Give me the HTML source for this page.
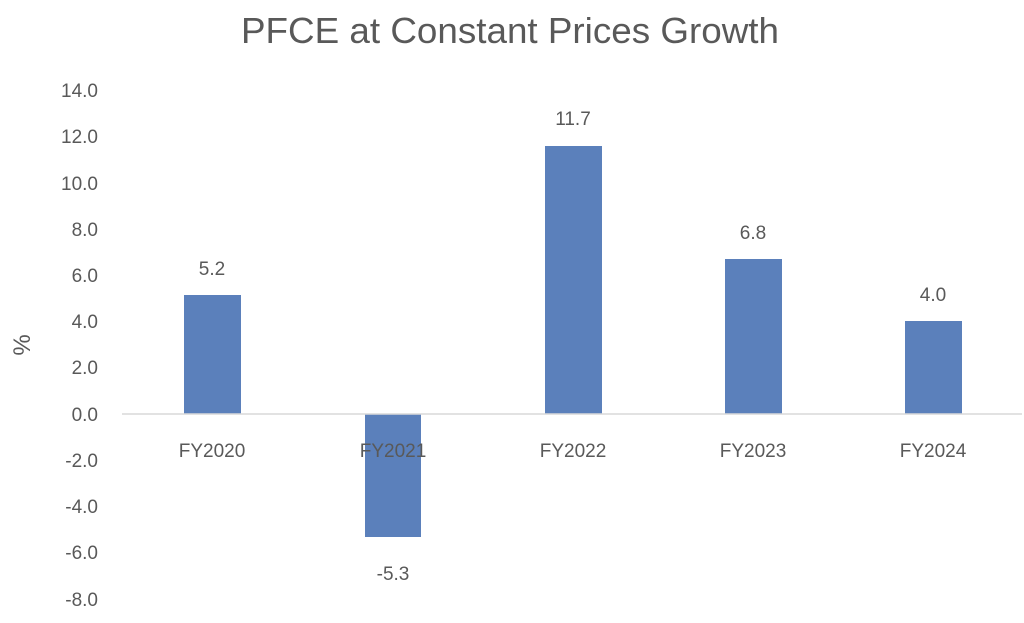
<!DOCTYPE html>
<html><head><style>
html,body{margin:0;padding:0;background:#fff;}
svg text{font-family:"Liberation Sans",sans-serif;fill:#595959;}
</style></head><body>
<svg width="1024" height="618" viewBox="0 0 1024 618" xmlns="http://www.w3.org/2000/svg">
<text x="510" y="43" font-size="36" text-anchor="middle" textLength="538" lengthAdjust="spacingAndGlyphs">PFCE at Constant Prices Growth</text>
<g font-size="19" text-anchor="end">
<text x="98" y="97">14.0</text>
<text x="98" y="143">12.0</text>
<text x="98" y="190">10.0</text>
<text x="98" y="236">8.0</text>
<text x="98" y="282">6.0</text>
<text x="98" y="328">4.0</text>
<text x="98" y="374">2.0</text>
<text x="98" y="421">0.0</text>
<text x="98" y="467">-2.0</text>
<text x="98" y="513">-4.0</text>
<text x="98" y="559">-6.0</text>
<text x="98" y="606">-8.0</text>
</g>
<text x="0" y="0" font-size="24" text-anchor="middle" transform="translate(30,345) rotate(-90)">%</text>
<g fill="#5b80bb">
<rect x="184" y="295" width="57" height="119"/>
<rect x="365" y="414" width="56" height="123"/>
<rect x="545" y="146" width="57" height="268"/>
<rect x="725" y="259" width="57" height="155"/>
<rect x="905" y="321" width="57" height="93"/>
</g>
<line x1="122" y1="414" x2="1022" y2="414" stroke="#d9d9d9" stroke-width="1.5"/>
<g font-size="19" text-anchor="middle">
<text x="212" y="457">FY2020</text>
<text x="393" y="457">FY2021</text>
<text x="573" y="457">FY2022</text>
<text x="753" y="457">FY2023</text>
<text x="933" y="457">FY2024</text>
<text x="212" y="275">5.2</text>
<text x="393" y="580">-5.3</text>
<text x="573" y="125">11.7</text>
<text x="753" y="239">6.8</text>
<text x="933" y="301">4.0</text>
</g>
</svg>
</body></html>
